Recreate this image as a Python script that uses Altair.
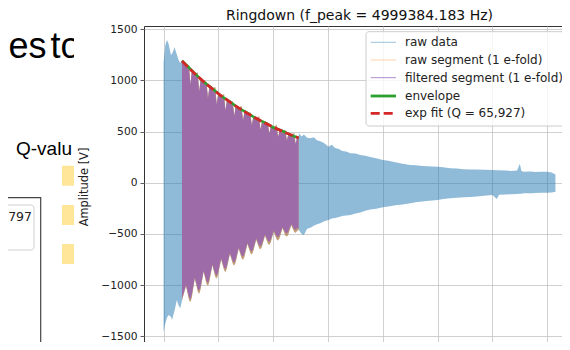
import altair as alt
import pandas as pd

# ---------------- data ----------------
TITLE = "Ringdown (f_peak = 4999384.183 Hz)"
Y_TICKS = [-1500, -1000, -500, 0, 500, 1000, 1500]
X_TICKS = [0, 1, 2, 3, 4, 5, 6, 7]

# raw data envelope before the 1 e-fold segment
pre_t = [0.0, 0.03, 0.062, 0.09, 0.135, 0.155, 0.2, 0.243, 0.274, 0.304]
pre_hi = [1170, 1340, 1393, 1360, 1247, 1260, 1320, 1250, 1198, 1169]
pre_lo = [-1455, -1380, -1320, -1292, -1310, -1341, -1250, -1146, -1200, -1227]

# 1 e-fold segment
seg_t = [0.336,
         0.41, 0.465, 0.49, 0.515,
         0.57, 0.625, 0.65, 0.675,
         0.73, 0.785, 0.81, 0.835,
         0.89, 0.945, 0.97, 0.995,
         1.05, 1.105, 1.13, 1.155,
         1.21, 1.265, 1.29, 1.315,
         1.37, 1.425, 1.45, 1.475,
         1.53, 1.585, 1.61, 1.635,
         1.69, 1.745, 1.77, 1.795,
         1.85, 1.905, 1.93, 1.955,
         2.01, 2.065, 2.09, 2.115,
         2.17, 2.225, 2.25, 2.275,
         2.33, 2.385, 2.41, 2.435,
         2.464]
raw_seg_hi = [1190,
              1150, 1150, 960, 1087,
              1067, 1075, 890, 1008,
              990, 986, 824, 934,
              918, 935, 764, 866,
              852, 865, 708, 803,
              791, 792, 655, 744,
              733, 750, 607, 690,
              680, 685, 562, 639,
              631, 650, 520, 593,
              586, 593, 482, 549,
              543, 565, 446, 509,
              504, 514, 413, 472,
              468, 485, 382, 438,
              440]
raw_seg_lo = [-1150,
              -1008, -1146, -1166, -1120,
              -936, -1065, -1084, -1041,
              -869, -989, -1007, -967,
              -806, -921, -936, -899,
              -749, -856, -871, -836,
              -696, -795, -809, -777,
              -645, -739, -752, -723,
              -599, -688, -700, -672,
              -556, -640, -651, -626,
              -517, -596, -606, -582,
              -480, -554, -564, -542,
              -446, -517, -525, -505,
              -415, -481, -489, -471,
              -460]
filt_seg_hi = [1175,
               1135, 1106, 957, 1080,
               1052, 1025, 887, 1001,
               975, 949, 821, 927,
               903, 881, 761, 859,
               837, 816, 705, 796,
               776, 755, 652, 737,
               718, 699, 604, 683,
               665, 648, 559, 632,
               616, 600, 517, 586,
               571, 556, 479, 542,
               528, 514, 443, 502,
               489, 477, 410, 465,
               453, 441, 379, 431,
               430]
filt_seg_lo = [-1129,
               -998, -1118, -1138, -1092,
               -926, -1037, -1056, -1013,
               -859, -961, -979, -939,
               -796, -893, -908, -871,
               -739, -828, -843, -808,
               -686, -767, -781, -749,
               -635, -711, -724, -695,
               -589, -660, -672, -644,
               -546, -612, -623, -598,
               -507, -568, -578, -554,
               -470, -526, -536, -514,
               -436, -489, -497, -477,
               -405, -453, -461, -443,
               -445]

# raw data envelope after the segment
post_t = [2.47, 2.52, 2.56, 2.62, 2.68, 2.74, 2.8, 2.86, 2.92, 3.01, 3.07, 3.13,
          3.2, 3.26, 3.33, 3.41, 3.5, 3.59, 3.68, 3.77, 3.88, 4.0, 4.1, 4.23,
          4.36, 4.5, 4.6, 4.68, 4.8, 5.0, 5.1, 5.23, 5.35, 5.47, 5.6, 5.71,
          5.85, 6.0, 6.08, 6.12, 6.24, 6.35, 6.45, 6.5, 6.53, 6.57, 6.7, 6.78,
          6.9, 7.0, 7.08, 7.15]
post_hi = [482, 450, 470, 440, 433, 445, 415, 405, 390, 352, 370, 340,
           330, 310, 305, 287, 285, 270, 262, 250, 240, 222, 215, 200,
           185, 173, 170, 165, 160, 156, 150, 140, 138, 131, 130, 128,
           126, 124, 122, 122, 118, 115, 120, 185, 115, 107, 110, 105,
           108, 107, 100, 80]
post_lo = [-462, -500, -511, -450, -440, -420, -405, -395, -380, -364, -350, -345,
           -335, -325, -320, -315, -300, -290, -275, -262, -255, -240, -232, -220,
           -212, -201, -190, -185, -178, -169, -160, -152, -148, -143, -140, -135,
           -128, -120, -160, -118, -115, -112, -110, -108, -108, -104, -102, -100,
           -99, -98, -95, -88]

# envelope and exponential fit over the segment
env_t = [0.336, 0.41, 0.57, 0.73, 0.89, 1.05, 1.21, 1.37, 1.53, 1.69, 1.85, 2.01, 2.17, 2.33, 2.464]
env_v = [1192, 1152, 1068, 985, 920, 846, 792, 727, 681, 625, 587, 537, 505, 462, 440]
fit_t = [0.336, 0.57, 0.81, 1.05, 1.29, 1.53, 1.77, 2.01, 2.25, 2.464]
fit_v = [1188, 1064, 950, 849, 758, 677, 605, 540, 483, 437]

LEGEND_LABELS = ["raw data", "raw segment (1 e-fold)", "filtered segment (1 e-fold)",
                 "envelope", "exp fit (Q = 65,927)"]

# ---------------- tables ----------------
raw_df = pd.DataFrame({"t": pre_t + seg_t + post_t,
                       "hi": pre_hi + raw_seg_hi + post_hi,
                       "lo": pre_lo + raw_seg_lo + post_lo})
seg_df = pd.DataFrame({"t": seg_t, "rhi": raw_seg_hi, "rlo": raw_seg_lo,
                       "fhi": filt_seg_hi, "flo": filt_seg_lo})
env_df = pd.DataFrame({"t": env_t, "v": env_v})
fit_df = pd.DataFrame({"t": fit_t, "v": fit_v})
one = pd.DataFrame({"k": [0]})

FONT = "DejaVu Sans"
xscale = alt.Scale(domain=[-0.357, 7.507], nice=False, zero=False)
yscale = alt.Scale(domain=[-1604.5, 1530.3], nice=False, zero=False)
xaxis = alt.Axis(values=X_TICKS, labels=False, title=None, tickSize=4, grid=True)
yaxis = alt.Axis(values=Y_TICKS, format="d", tickSize=4, labelPadding=3,
                 title="Amplitude [V]", titleX=-55, titleY=160.5,
                 titleBaseline="bottom", titleAlign="center", grid=True)


def X(f):
    return alt.X(f, type="quantitative", scale=xscale, axis=xaxis)


def Y(f):
    return alt.Y(f, type="quantitative", scale=yscale, axis=yaxis)


raw_area = alt.Chart(raw_df).mark_area(color="#1f77b4", opacity=0.5).encode(
    x=X("t"), y=Y("hi"), y2="lo")
seg_area = alt.Chart(seg_df).mark_area(color="#ff7f0e", opacity=0.5).encode(
    x=X("t"), y=Y("rhi"), y2="rlo")
filt_area = alt.Chart(seg_df).mark_area(color="#9c6ba8", opacity=1).encode(
    x=X("t"), y=Y("fhi"), y2="flo")
env_line = alt.Chart(env_df).mark_line(color="#2ca02c", strokeWidth=2.6).encode(
    x=X("t"), y=Y("v"))
fit_line = alt.Chart(fit_df).mark_line(color="#d62728", strokeWidth=2.8,
                                       strokeDash=[8, 3.5]).encode(
    x=X("t"), y=Y("v"))

layers = [raw_area, seg_area, filt_area, env_line, fit_line]

# legend (upper right, matplotlib style)
layers.append(alt.Chart(one).mark_rect(fill="white", fillOpacity=0.8, stroke="#cccccc",
                                       strokeWidth=1, cornerRadius=3).encode(
    x=alt.value(222), x2=alt.value(424), y=alt.value(5.7), y2=alt.value(100)))
leg_styles = [
    dict(color="#1f77b4", opacity=0.45, strokeWidth=1),
    dict(color="#ff7f0e", opacity=0.35, strokeWidth=1),
    dict(color="#9467bd", opacity=0.75, strokeWidth=1),
    dict(color="#2ca02c", opacity=1, strokeWidth=2.8),
    dict(color="#d62728", opacity=1, strokeWidth=2.8, strokeDash=[9, 4]),
]
leg_y = [16.3, 34, 51.7, 70, 87.3]
for lab, st, yy in zip(LEGEND_LABELS, leg_styles, leg_y):
    layers.append(alt.Chart(one).mark_rule(**st).encode(
        x=alt.value(226.7), x2=alt.value(252), y=alt.value(yy)))
    layers.append(alt.Chart(one).mark_text(align="left", baseline="middle", font=FONT,
                                           fontSize=12, color="#222").encode(
        x=alt.value(261), y=alt.value(yy), text=alt.value(lab)))

# background slide fragments to the left of the figure
SANS = "Liberation Sans"
for ch, px in [("e", 8.5), ("s", 28.5), ("t", 50.5), ("o", 60.5)]:
    layers.append(alt.Chart(one).mark_text(align="left", baseline="alphabetic", font=SANS,
                                           fontSize=36, color="#000").encode(
        x=alt.value(px - 144), y=alt.value(32), text=alt.value(ch)))
layers.append(alt.Chart(one).mark_rect(color="white").encode(
    x=alt.value(-70), x2=alt.value(-49), y=alt.value(0), y2=alt.value(44)))
layers.append(alt.Chart(one).mark_text(align="left", baseline="alphabetic", font=SANS,
                                       fontSize=19, color="#000").encode(
    x=alt.value(16 - 144), y=alt.value(154.5 - 26), text=alt.value("Q-valu")))
for y0 in [165.7, 205, 244]:
    layers.append(alt.Chart(one).mark_rect(color="#ffe699").encode(
        x=alt.value(62 - 144), x2=alt.value(74 - 144),
        y=alt.value(y0 - 26), y2=alt.value(y0 + 20 - 26)))
layers.append(alt.Chart(one).mark_rect(fill="white", fillOpacity=0, stroke="#444",
                                       strokeWidth=1.2).encode(
    x=alt.value(-160), x2=alt.value(40.7 - 144), y=alt.value(197.7 - 26), y2=alt.value(340)))
layers.append(alt.Chart(one).mark_rect(fill="white", stroke="#d0d0d0", strokeWidth=1,
                                       cornerRadius=3).encode(
    x=alt.value(-160), x2=alt.value(34 - 144), y=alt.value(205 - 26), y2=alt.value(250 - 26)))
layers.append(alt.Chart(one).mark_text(align="right", baseline="alphabetic", font=FONT,
                                       fontSize=12.5, color="#222").encode(
    x=alt.value(32 - 144), y=alt.value(221 - 26), text=alt.value("797")))

chart = alt.layer(*layers).properties(
    width=431, height=321,
    title=alt.TitleParams(TITLE, font=FONT, fontSize=14, fontWeight="normal",
                          color="#111", anchor="middle", offset=0),
    autosize=alt.AutoSizeParams(type="none"),
    padding={"left": 136, "top": 18, "right": -13, "bottom": -5},
).configure_view(stroke="#333", strokeWidth=1).configure_axis(
    gridColor="#c4c4c4", gridWidth=0.8, tickColor="#333", tickWidth=0.8, domain=False,
    labelFont=FONT, labelFontSize=10.7, labelColor="#222",
    titleFont=FONT, titleFontSize=11.4, titleFontWeight="normal", titleColor="#222",
)

chart.save("out.html", embed_options={"renderer": "svg", "actions": False})
